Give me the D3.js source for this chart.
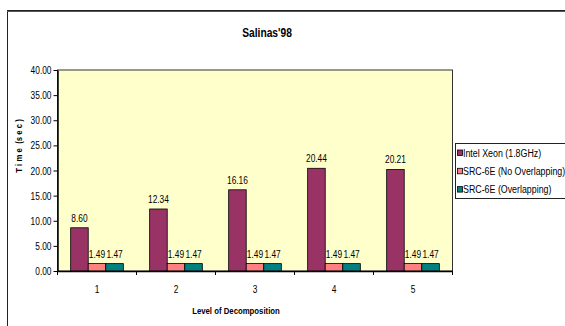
<!DOCTYPE html>
<html>
<head>
<meta charset="utf-8">
<script src="https://cdn.jsdelivr.net/npm/d3@7"></script>
<style>
  html, body { margin: 0; padding: 0; background: #fff; }
  svg { display: block; }
  text { font-family: "Liberation Sans", Arial, sans-serif; fill: #000; }
</style>
</head>
<body>
<svg id="chart" width="565" height="326"></svg>
<script>
// Run times per decomposition level
const categories = ["1", "2", "3", "4", "5"];
const seriesNames = ["Intel Xeon (1.8GHz)", "SRC-6E (No Overlapping)", "SRC-6E (Overlapping)"];
const xeon = [8.60, 12.34, 16.16, 20.44, 20.21];
const srcNoOverlap = [1.49, 1.49, 1.49, 1.49, 1.49];
const srcOverlap = [1.47, 1.47, 1.47, 1.47, 1.47];
const yTicks = [0, 5, 10, 15, 20, 25, 30, 35, 40];
const seriesColors = ["#993366", "#FF8080", "#008080"];

const series = [xeon, srcNoOverlap, srcOverlap];

// Horizontal squeeze that gives the narrow typeface look
const SQUEEZE = 0.82;
function narrow(sel) {
  sel.each(function () {
    const t = d3.select(this);
    const tx = +(t.attr("x") || 0), ty = +(t.attr("y") || 0);
    const prev = t.attr("transform") || "";
    t.attr("x", 0).attr("y", 0)
     .attr("transform", `${prev} translate(${tx},${ty}) scale(${SQUEEZE},1)`);
  });
}

const svg = d3.select("#chart");

// Chart area frame
svg.append("rect")
  .attr("x", 7.5).attr("y", 10.5)
  .attr("width", 600).attr("height", 400)
  .attr("fill", "#fff").attr("stroke", "#222").attr("stroke-width", 1);
svg.append("line")
  .attr("x1", 7).attr("x2", 565).attr("y1", 11.5).attr("y2", 11.5)
  .attr("stroke", "#555").attr("stroke-width", 1);

const plot = { left: 57.5, right: 452.5, top: 70, bottom: 271 };

const x = d3.scaleBand().domain(categories).range([plot.left, plot.right]).paddingInner(0).paddingOuter(0);
const bandW = x.bandwidth();
const barW = bandW / 4.5;
const xs = d3.scaleBand().domain(d3.range(series.length)).range([0.75 * barW, 3.75 * barW]).padding(0);
const y = d3.scaleLinear().domain([0, 40]).range([plot.bottom, plot.top]);

// Plot area
svg.append("rect")
  .attr("x", plot.left).attr("y", plot.top)
  .attr("width", plot.right - plot.left).attr("height", plot.bottom - plot.top)
  .attr("fill", "#FFFFCC").attr("stroke", "#333").attr("stroke-width", 1);

// Bars
series.forEach((vals, si) => {
  svg.append("g").selectAll("rect")
    .data(vals)
    .join("rect")
    .attr("x", (d, i) => x(categories[i]) + xs(si))
    .attr("y", d => y(d))
    .attr("width", xs.bandwidth())
    .attr("height", d => y(0) - y(d))
    .attr("fill", seriesColors[si])
    .attr("stroke", "#000").attr("stroke-width", 0.8);
});

// Value labels
series.forEach((vals, si) => {
  svg.append("g").selectAll("text")
    .data(vals)
    .join("text")
    .attr("x", (d, i) => x(categories[i]) + xs(si) + xs.bandwidth() / 2)
    .attr("y", d => y(d) - 6)
    .attr("text-anchor", "middle")
    .attr("font-size", 10.2)
    .text(d => d.toFixed(2))
    .call(narrow);
});

// Y axis
const yAxis = d3.axisLeft(y).tickValues(yTicks).tickFormat(d3.format(".2f")).tickSize(4).tickSizeOuter(0);
const gy = svg.append("g").attr("transform", `translate(${plot.left},0)`).call(yAxis);
gy.select(".domain").attr("stroke", "#000").attr("stroke-width", 1.5);
gy.selectAll(".tick line").attr("stroke", "#000");
gy.selectAll(".tick text").attr("font-size", 10.2).attr("font-family", null)
  .attr("x", -6).attr("y", 0).attr("dy", "0.35em").call(narrow);

// X axis
const xAxis = d3.axisBottom(x).tickSize(0).tickSizeOuter(0);
const gx = svg.append("g").attr("transform", `translate(0,${plot.bottom})`).call(xAxis);
gx.select(".domain").attr("stroke", "#000").attr("stroke-width", 1.5);
gx.selectAll(".tick text").attr("font-size", 10.2).attr("font-family", null)
  .attr("x", 0).attr("y", 18).attr("dy", "0.35em").call(narrow);
// Category separators
gx.append("g").selectAll("line")
  .data(d3.range(categories.length + 1))
  .join("line")
  .attr("x1", i => plot.left + i * bandW).attr("x2", i => plot.left + i * bandW)
  .attr("y1", 0).attr("y2", 4)
  .attr("stroke", "#000");

// Titles
svg.append("text")
  .attr("x", 267).attr("y", 37)
  .attr("text-anchor", "middle").attr("font-size", 12.5).attr("font-weight", "bold")
  .text("Salinas'98").call(narrow);
svg.append("text")
  .attr("x", 236).attr("y", 313.5)
  .attr("text-anchor", "middle").attr("font-size", 9.5).attr("font-weight", "bold")
  .text("Level of Decomposition").call(narrow);
svg.append("text")
  .attr("transform", "translate(22,146) rotate(-90)")
  .attr("text-anchor", "middle").attr("font-size", 9.5).attr("font-weight", "bold")
  .attr("xml:space", "preserve")
  .text("T i m e  (s e c )").call(narrow);

// Legend
const legend = svg.append("g");
legend.append("rect")
  .attr("x", 455.5).attr("y", 143.5)
  .attr("width", 120).attr("height", 55)
  .attr("fill", "#fff").attr("stroke", "#222");
const lg = legend.selectAll("g.item")
  .data(seriesNames)
  .join("g").attr("class", "item")
  .attr("transform", (d, i) => `translate(457.5,${153 + i * 18.3})`);
lg.append("rect")
  .attr("x", 0).attr("y", -3).attr("width", 5).attr("height", 5.5)
  .attr("fill", (d, i) => seriesColors[i]).attr("stroke", "#000").attr("stroke-width", 0.8);
lg.append("text")
  .attr("x", 5.5).attr("y", 0).attr("dy", "0.35em")
  .attr("font-size", 10.8)
  .text(d => d).call(narrow);
</script>
</body>
</html>
